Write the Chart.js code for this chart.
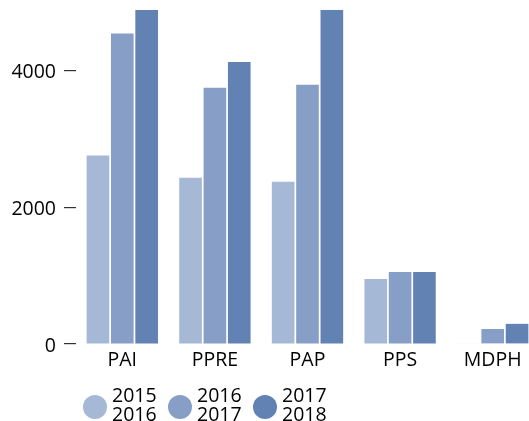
<!DOCTYPE html>
<html><head><meta charset="utf-8">
<script src="https://cdn.jsdelivr.net/npm/chart.js@4"></script>
<style>html,body{margin:0;padding:0;background:#fff;overflow:hidden;width:529px;height:421px}
#wrap{position:absolute;left:0;top:0;width:539px;height:421px}</style>
</head><body><div id="wrap"><canvas id="c" width="539" height="421"></canvas></div>
<script>
const categories = ["PAI", "PPRE", "PAP", "PPS", "MDPH"];
const series1516 = [2760, 2435, 2375, 950, 8];
const series1617 = [4545, 3750, 3795, 1055, 220];
const series1718 = [5100, 4130, 5050, 1055, 295];
const seriesLabels = [["2015", "2016"], ["2016", "2017"], ["2017", "2018"]];
const seriesColors = ["#a5b9d6", "#879fc6", "#6282b3"];
const yTicks = [0, 2000, 4000];
const yMax = 4890;

const FONT = "'Open Sans', sans-serif";
const TEXT = "#000";

const legendPlugin = {
  id: 'customLegend',
  afterDraw(chart) {
    const ctx = chart.ctx;
    ctx.save();
    chart.data.datasets.forEach((ds, i) => {
      const cx = 95 + i * 85, cy = 407;
      ctx.fillStyle = ds.backgroundColor;
      ctx.beginPath();
      ctx.arc(cx, cy, 12, 0, Math.PI * 2);
      ctx.fill();
      ctx.fillStyle = TEXT;
      ctx.font = "19.5px " + FONT;
      ctx.textAlign = 'left';
      ctx.textBaseline = 'alphabetic';
      seriesLabels[i].forEach((t, j) => ctx.fillText(t, cx + 17, 402 + j * 19));
    });
    ctx.restore();
  }
};

const datasets = [series1516, series1617, series1718].map((d, i) => ({
  label: seriesLabels[i].join('-'),
  data: d,
  backgroundColor: seriesColors[i],
  borderWidth: 0,
  categoryPercentage: 0.789,
  barPercentage: 0.93
}));

new Chart(document.getElementById('c'), {
  type: 'bar',
  data: { labels: categories, datasets },
  options: {
    responsive: false,
    animation: false,
    devicePixelRatio: 1,
    layout: { padding: { top: 10, left: 0, right: 0, bottom: 0 } },
    plugins: { legend: { display: false }, tooltip: { enabled: false } },
    scales: {
      x: {
        grid: { display: false },
        border: { display: false },
        ticks: { font: { family: FONT, size: 19.5 }, color: TEXT, padding: -3, maxRotation: 0 },
        afterFit(s) { s.height = 77; s.paddingLeft = 0; s.paddingRight = 0; }
      },
      y: {
        min: 0,
        max: yMax,
        afterBuildTicks(s) { s.ticks = yTicks.map(v => ({ value: v })); },
        grid: { drawOnChartArea: false, tickLength: 12, color: '#333', lineWidth: 1.2 },
        border: { display: false },
        ticks: { font: { family: FONT, size: 19.5 }, color: TEXT, padding: 8, labelOffset: 2,
                 callback: v => String(v) },
        afterFit(s) { s.width = 76; s.paddingTop = 0; s.paddingBottom = 0; }
      }
    }
  },
  plugins: [legendPlugin]
});
</script></body></html>
